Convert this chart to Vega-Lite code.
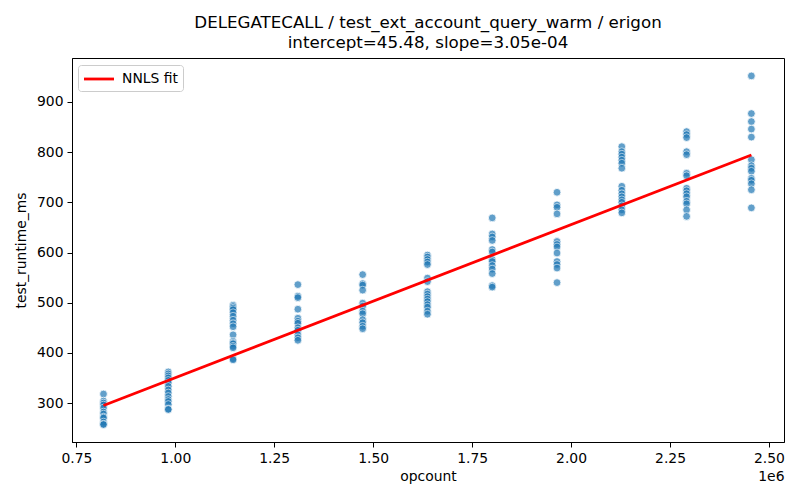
{
  "$schema": "https://vega.github.io/schema/vega-lite/v6.json",
  "width": 712,
  "height": 384,
  "autosize": "none",
  "padding": {"left": 72, "top": 58, "right": 16, "bottom": 58},
  "title": {
    "text": ["DELEGATECALL / test_ext_account_query_warm / erigon", "intercept=45.48, slope=3.05e-04"],
    "fontSize": 16.7,
    "fontWeight": "normal",
    "font": "DejaVu Sans",
    "color": "black",
    "anchor": "middle",
    "lineHeight": 20,
    "offset": 6
  },
  "datasets": {
    "points": [
      {"opcount": 818600, "test_runtime_ms": 318}, {"opcount": 818600, "test_runtime_ms": 304}, {"opcount": 818600, "test_runtime_ms": 300},
      {"opcount": 818600, "test_runtime_ms": 296}, {"opcount": 818600, "test_runtime_ms": 290}, {"opcount": 818600, "test_runtime_ms": 282},
      {"opcount": 818600, "test_runtime_ms": 278}, {"opcount": 818600, "test_runtime_ms": 272}, {"opcount": 818600, "test_runtime_ms": 270},
      {"opcount": 818600, "test_runtime_ms": 262}, {"opcount": 818600, "test_runtime_ms": 258}, {"opcount": 818600, "test_runtime_ms": 257},
      {"opcount": 982300, "test_runtime_ms": 362}, {"opcount": 982300, "test_runtime_ms": 358}, {"opcount": 982300, "test_runtime_ms": 354},
      {"opcount": 982300, "test_runtime_ms": 350}, {"opcount": 982300, "test_runtime_ms": 345}, {"opcount": 982300, "test_runtime_ms": 340},
      {"opcount": 982300, "test_runtime_ms": 333}, {"opcount": 982300, "test_runtime_ms": 326}, {"opcount": 982300, "test_runtime_ms": 320},
      {"opcount": 982300, "test_runtime_ms": 313}, {"opcount": 982300, "test_runtime_ms": 307}, {"opcount": 982300, "test_runtime_ms": 303},
      {"opcount": 982300, "test_runtime_ms": 297}, {"opcount": 982300, "test_runtime_ms": 288}, {"opcount": 982300, "test_runtime_ms": 287},
      {"opcount": 1146000, "test_runtime_ms": 495}, {"opcount": 1146000, "test_runtime_ms": 492}, {"opcount": 1146000, "test_runtime_ms": 489},
      {"opcount": 1146000, "test_runtime_ms": 486}, {"opcount": 1146000, "test_runtime_ms": 480}, {"opcount": 1146000, "test_runtime_ms": 473},
      {"opcount": 1146000, "test_runtime_ms": 465}, {"opcount": 1146000, "test_runtime_ms": 458}, {"opcount": 1146000, "test_runtime_ms": 452},
      {"opcount": 1146000, "test_runtime_ms": 436}, {"opcount": 1146000, "test_runtime_ms": 423}, {"opcount": 1146000, "test_runtime_ms": 420},
      {"opcount": 1146000, "test_runtime_ms": 418}, {"opcount": 1146000, "test_runtime_ms": 413}, {"opcount": 1146000, "test_runtime_ms": 410},
      {"opcount": 1146000, "test_runtime_ms": 388}, {"opcount": 1146000, "test_runtime_ms": 386},
      {"opcount": 1309700, "test_runtime_ms": 536}, {"opcount": 1309700, "test_runtime_ms": 513}, {"opcount": 1309700, "test_runtime_ms": 510},
      {"opcount": 1309700, "test_runtime_ms": 487}, {"opcount": 1309700, "test_runtime_ms": 469}, {"opcount": 1309700, "test_runtime_ms": 463},
      {"opcount": 1309700, "test_runtime_ms": 459}, {"opcount": 1309700, "test_runtime_ms": 450}, {"opcount": 1309700, "test_runtime_ms": 445},
      {"opcount": 1309700, "test_runtime_ms": 436}, {"opcount": 1309700, "test_runtime_ms": 430}, {"opcount": 1309700, "test_runtime_ms": 425},
      {"opcount": 1473400, "test_runtime_ms": 556}, {"opcount": 1473400, "test_runtime_ms": 538}, {"opcount": 1473400, "test_runtime_ms": 535},
      {"opcount": 1473400, "test_runtime_ms": 525}, {"opcount": 1473400, "test_runtime_ms": 499}, {"opcount": 1473400, "test_runtime_ms": 493},
      {"opcount": 1473400, "test_runtime_ms": 483}, {"opcount": 1473400, "test_runtime_ms": 478}, {"opcount": 1473400, "test_runtime_ms": 466},
      {"opcount": 1473400, "test_runtime_ms": 460}, {"opcount": 1473400, "test_runtime_ms": 453}, {"opcount": 1473400, "test_runtime_ms": 448},
      {"opcount": 1637100, "test_runtime_ms": 595}, {"opcount": 1637100, "test_runtime_ms": 591}, {"opcount": 1637100, "test_runtime_ms": 586},
      {"opcount": 1637100, "test_runtime_ms": 581}, {"opcount": 1637100, "test_runtime_ms": 576}, {"opcount": 1637100, "test_runtime_ms": 549},
      {"opcount": 1637100, "test_runtime_ms": 542}, {"opcount": 1637100, "test_runtime_ms": 522}, {"opcount": 1637100, "test_runtime_ms": 517},
      {"opcount": 1637100, "test_runtime_ms": 512}, {"opcount": 1637100, "test_runtime_ms": 507}, {"opcount": 1637100, "test_runtime_ms": 502},
      {"opcount": 1637100, "test_runtime_ms": 496}, {"opcount": 1637100, "test_runtime_ms": 491}, {"opcount": 1637100, "test_runtime_ms": 483},
      {"opcount": 1637100, "test_runtime_ms": 477},
      {"opcount": 1800800, "test_runtime_ms": 669}, {"opcount": 1800800, "test_runtime_ms": 637}, {"opcount": 1800800, "test_runtime_ms": 631},
      {"opcount": 1800800, "test_runtime_ms": 624}, {"opcount": 1800800, "test_runtime_ms": 606}, {"opcount": 1800800, "test_runtime_ms": 601},
      {"opcount": 1800800, "test_runtime_ms": 586}, {"opcount": 1800800, "test_runtime_ms": 582}, {"opcount": 1800800, "test_runtime_ms": 574},
      {"opcount": 1800800, "test_runtime_ms": 567}, {"opcount": 1800800, "test_runtime_ms": 558}, {"opcount": 1800800, "test_runtime_ms": 534},
      {"opcount": 1800800, "test_runtime_ms": 531},
      {"opcount": 1964500, "test_runtime_ms": 720}, {"opcount": 1964500, "test_runtime_ms": 695}, {"opcount": 1964500, "test_runtime_ms": 690},
      {"opcount": 1964500, "test_runtime_ms": 677}, {"opcount": 1964500, "test_runtime_ms": 622}, {"opcount": 1964500, "test_runtime_ms": 616},
      {"opcount": 1964500, "test_runtime_ms": 611}, {"opcount": 1964500, "test_runtime_ms": 599}, {"opcount": 1964500, "test_runtime_ms": 582},
      {"opcount": 1964500, "test_runtime_ms": 576}, {"opcount": 1964500, "test_runtime_ms": 569}, {"opcount": 1964500, "test_runtime_ms": 540},
      {"opcount": 2128200, "test_runtime_ms": 811}, {"opcount": 2128200, "test_runtime_ms": 801}, {"opcount": 2128200, "test_runtime_ms": 796},
      {"opcount": 2128200, "test_runtime_ms": 790}, {"opcount": 2128200, "test_runtime_ms": 784}, {"opcount": 2128200, "test_runtime_ms": 778},
      {"opcount": 2128200, "test_runtime_ms": 768}, {"opcount": 2128200, "test_runtime_ms": 732}, {"opcount": 2128200, "test_runtime_ms": 724},
      {"opcount": 2128200, "test_runtime_ms": 717}, {"opcount": 2128200, "test_runtime_ms": 711}, {"opcount": 2128200, "test_runtime_ms": 705},
      {"opcount": 2128200, "test_runtime_ms": 700}, {"opcount": 2128200, "test_runtime_ms": 693}, {"opcount": 2128200, "test_runtime_ms": 685},
      {"opcount": 2128200, "test_runtime_ms": 679},
      {"opcount": 2291900, "test_runtime_ms": 841}, {"opcount": 2291900, "test_runtime_ms": 835}, {"opcount": 2291900, "test_runtime_ms": 829},
      {"opcount": 2291900, "test_runtime_ms": 801}, {"opcount": 2291900, "test_runtime_ms": 795}, {"opcount": 2291900, "test_runtime_ms": 758},
      {"opcount": 2291900, "test_runtime_ms": 753}, {"opcount": 2291900, "test_runtime_ms": 728}, {"opcount": 2291900, "test_runtime_ms": 723},
      {"opcount": 2291900, "test_runtime_ms": 717}, {"opcount": 2291900, "test_runtime_ms": 711}, {"opcount": 2291900, "test_runtime_ms": 702},
      {"opcount": 2291900, "test_runtime_ms": 697}, {"opcount": 2291900, "test_runtime_ms": 685}, {"opcount": 2291900, "test_runtime_ms": 672},
      {"opcount": 2455600, "test_runtime_ms": 952}, {"opcount": 2455600, "test_runtime_ms": 877}, {"opcount": 2455600, "test_runtime_ms": 861},
      {"opcount": 2455600, "test_runtime_ms": 846}, {"opcount": 2455600, "test_runtime_ms": 830}, {"opcount": 2455600, "test_runtime_ms": 785},
      {"opcount": 2455600, "test_runtime_ms": 773}, {"opcount": 2455600, "test_runtime_ms": 768}, {"opcount": 2455600, "test_runtime_ms": 762},
      {"opcount": 2455600, "test_runtime_ms": 748}, {"opcount": 2455600, "test_runtime_ms": 744}, {"opcount": 2455600, "test_runtime_ms": 737},
      {"opcount": 2455600, "test_runtime_ms": 725}, {"opcount": 2455600, "test_runtime_ms": 689}
    ],
    "fit": [
      {"opcount": 818600, "test_runtime_ms": 295.15, "series": "NNLS fit"},
      {"opcount": 2455600, "test_runtime_ms": 794.44, "series": "NNLS fit"}
    ]
  },
  "layer": [
    {
      "data": {"name": "points"},
      "mark": {"type": "circle", "size": 60, "color": "#1f77b4", "opacity": 0.7, "stroke": "white", "strokeWidth": 0.8},
      "encoding": {
        "x": {
          "field": "opcount",
          "type": "quantitative",
          "scale": {"domain": [739000, 2538000], "nice": false, "zero": false},
          "axis": {
            "title": "opcount",
            "values": [750000, 1000000, 1250000, 1500000, 1750000, 2000000, 2250000, 2500000],
            "labelExpr": "format(datum.value / 1000000, '.2f')",
            "grid": false,
            "tickSize": 5,
            "tickColor": "black",
            "domainColor": "black",
            "labelColor": "black",
            "labelFontSize": 13.9,
            "labelPadding": 4,
            "titleFontSize": 13.9,
            "titleFontWeight": "normal",
            "titleColor": "black",
            "titlePadding": 5
          }
        },
        "y": {
          "field": "test_runtime_ms",
          "type": "quantitative",
          "scale": {"domain": [222.3, 987.7], "nice": false, "zero": false},
          "axis": {
            "title": "test_runtime_ms",
            "values": [300, 400, 500, 600, 700, 800, 900],
            "grid": false,
            "tickSize": 5,
            "tickColor": "black",
            "domainColor": "black",
            "labelColor": "black",
            "labelFontSize": 13.9,
            "labelPadding": 4,
            "titleFontSize": 13.9,
            "titleFontWeight": "normal",
            "titleColor": "black",
            "titlePadding": 8
          }
        }
      }
    },
    {
      "data": {"name": "fit"},
      "mark": {"type": "line", "strokeWidth": 2.8},
      "encoding": {
        "x": {
          "field": "opcount",
          "type": "quantitative",
          "axis": {
            "orient": "bottom",
            "title": "1e6",
            "labels": false,
            "ticks": false,
            "domain": false,
            "grid": false,
            "titleAnchor": "end",
            "titleAlign": "right",
            "titleFontSize": 13.9,
            "titleFontWeight": "normal",
            "titleColor": "black",
            "titlePadding": 27
          }
        },
        "y": {"field": "test_runtime_ms", "type": "quantitative"},
        "color": {
          "field": "series",
          "type": "nominal",
          "scale": {"domain": ["NNLS fit"], "range": ["red"]},
          "legend": {
            "title": null,
            "orient": "none",
            "legendX": 6,
            "legendY": 7,
            "symbolType": "M-2,0H2",
            "symbolSize": 225,
            "symbolOffset": 7,
            "symbolStrokeWidth": 2.8,
            "symbolFillColor": "transparent",
            "labelFontSize": 13.9,
            "labelColor": "black",
            "labelOffset": 14,
            "padding": 5,
            "strokeColor": "#cccccc",
            "fillColor": "white",
            "cornerRadius": 3
          }
        }
      }
    }
  ],
  "resolve": {"axis": {"x": "independent"}},
  "config": {
    "font": "DejaVu Sans",
    "view": {"stroke": "black", "strokeWidth": 1}
  }
}
